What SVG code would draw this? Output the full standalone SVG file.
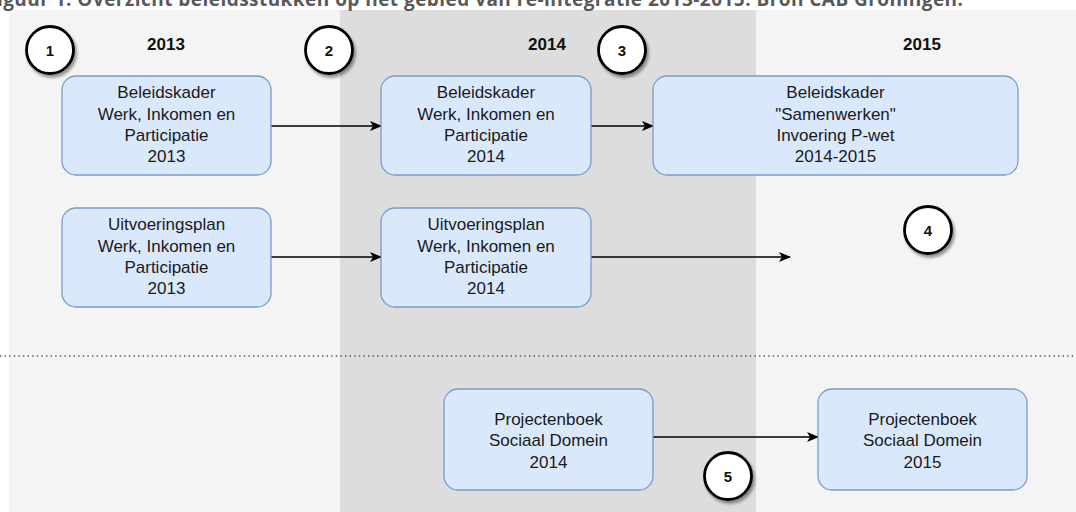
<svg xmlns="http://www.w3.org/2000/svg" width="1076" height="512" viewBox="0 0 1076 512">
<defs>
<style>
.box{fill:#dae8fc;stroke:#7b9bc9;stroke-width:1.3}
.bt{font-family:"Liberation Sans",Arial,sans-serif;font-size:17px;fill:#1a1a1a;text-anchor:middle}
.hd{font-family:"Liberation Sans",Arial,sans-serif;font-size:17px;font-weight:bold;fill:#111;text-anchor:middle}
.cn{font-family:"Liberation Sans",Arial,sans-serif;font-size:15px;font-weight:bold;fill:#111;text-anchor:middle}
.circ{fill:#fff;stroke:#000;stroke-width:2.8;filter:url(#sh)}
.edge{stroke:#000;stroke-width:1.6;fill:none;marker-end:url(#ah)}
</style>
<marker id="ah" markerWidth="12" markerHeight="10" refX="11" refY="5" orient="auto" markerUnits="userSpaceOnUse">
<path d="M0,0 L12,5 L0,10 L3,5 Z" fill="#000"/>
</marker>
<filter id="sh" x="-30%" y="-30%" width="170%" height="170%">
<feDropShadow dx="2" dy="3" stdDeviation="1.5" flood-color="#000" flood-opacity="0.4"/>
</filter>
</defs>
<rect x="0" y="0" width="1076" height="512" fill="#ffffff"/>
<g id="background">
<rect x="9" y="10" width="331" height="502" fill="#f4f4f4"/>
<rect x="340" y="10" width="416" height="502" fill="#dddddd"/>
<rect x="756" y="10" width="320" height="502" fill="#f4f4f4"/>
<line x1="0" y1="356" x2="1076" y2="356" stroke="#555" stroke-width="1.4" stroke-dasharray="1.4,3.2"/>
</g>
<text x="-14" y="5.5" textLength="977" font-family="'Open Sans','Liberation Sans',sans-serif" font-size="19" font-weight="bold" fill="#595959">Figuur 1. Overzicht beleidsstukken op het gebied van re-integratie 2013-2015. Bron CAB Groningen.</text>
<g id="headers">
<text class="hd" x="166" y="50">2013</text>
<text class="hd" x="547" y="50">2014</text>
<text class="hd" x="922" y="50">2015</text>
</g>
<g id="connectors">
<line class="edge" x1="271" y1="126" x2="381" y2="126"/>
<line class="edge" x1="591" y1="126" x2="653" y2="126"/>
<line class="edge" x1="271" y1="257" x2="381" y2="257"/>
<line class="edge" x1="591" y1="257" x2="790" y2="257"/>
<line class="edge" x1="653" y1="437" x2="818" y2="437"/>
</g>
<g id="c1"><circle class="circ" cx="50" cy="50" r="23.5"/><text class="cn" x="50" y="56">1</text></g>
<g id="c2"><circle class="circ" cx="329" cy="50" r="23.5"/><text class="cn" x="329" y="56">2</text></g>
<g id="c3"><circle class="circ" cx="622" cy="50" r="23.5"/><text class="cn" x="622" y="56">3</text></g>
<g id="c4"><circle class="circ" cx="928" cy="230" r="23.5"/><text class="cn" x="928" y="236">4</text></g>
<g id="c5"><circle class="circ" cx="728" cy="476" r="23.5"/><text class="cn" x="728" y="482">5</text></g>
<g id="b1"><rect class="box" x="62" y="76" width="209" height="99" rx="14"/>
<text class="bt" x="166.5" y="98">Beleidskader</text><text class="bt" x="166.5" y="119.5">Werk, Inkomen en</text><text class="bt" x="166.5" y="141">Participatie</text><text class="bt" x="166.5" y="162">2013</text></g>
<g id="u1"><rect class="box" x="62" y="208" width="209" height="99" rx="14"/>
<text class="bt" x="166.5" y="230">Uitvoeringsplan</text><text class="bt" x="166.5" y="251.5">Werk, Inkomen en</text><text class="bt" x="166.5" y="273">Participatie</text><text class="bt" x="166.5" y="294">2013</text></g>
<g id="b2"><rect class="box" x="381" y="76" width="210" height="99" rx="14"/>
<text class="bt" x="486" y="98">Beleidskader</text><text class="bt" x="486" y="119.5">Werk, Inkomen en</text><text class="bt" x="486" y="141">Participatie</text><text class="bt" x="486" y="162">2014</text></g>
<g id="u2"><rect class="box" x="381" y="208" width="210" height="99" rx="14"/>
<text class="bt" x="486" y="230">Uitvoeringsplan</text><text class="bt" x="486" y="251.5">Werk, Inkomen en</text><text class="bt" x="486" y="273">Participatie</text><text class="bt" x="486" y="294">2014</text></g>
<g id="b3"><rect class="box" x="653" y="76" width="365" height="99" rx="14"/>
<text class="bt" x="835.5" y="98">Beleidskader</text><text class="bt" x="835.5" y="119.5">"Samenwerken"</text><text class="bt" x="835.5" y="141">Invoering P-wet</text><text class="bt" x="835.5" y="162">2014-2015</text></g>
<g id="p1"><rect class="box" x="444" y="389" width="209" height="101" rx="14"/>
<text class="bt" x="548.5" y="424.5">Projectenboek</text><text class="bt" x="548.5" y="446">Sociaal Domein</text><text class="bt" x="548.5" y="467.5">2014</text></g>
<g id="p2"><rect class="box" x="818" y="389" width="209" height="101" rx="14"/>
<text class="bt" x="922.5" y="424.5">Projectenboek</text><text class="bt" x="922.5" y="446">Sociaal Domein</text><text class="bt" x="922.5" y="467.5">2015</text></g>
</svg>
